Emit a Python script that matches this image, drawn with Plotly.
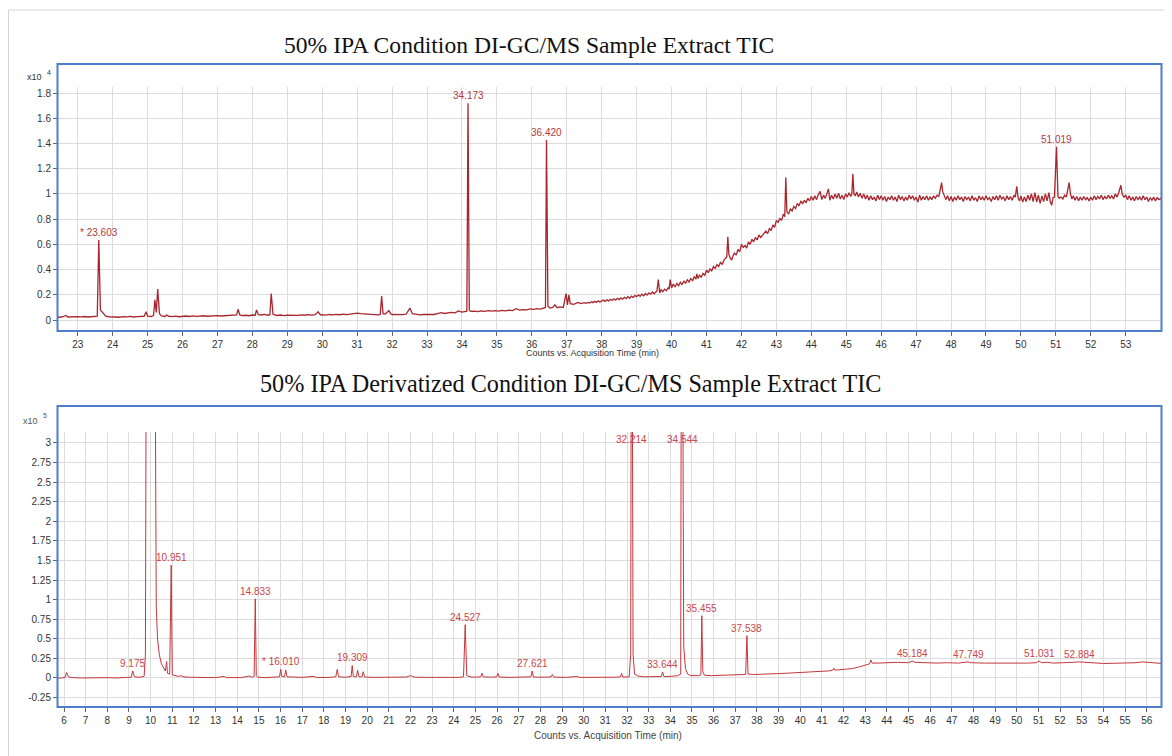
import plotly.graph_objects as go

# ---------------- DATA ----------------
# Top chromatogram: (retention time [min], counts x10^4)
top_trace = [
    (22.40, 0.025), (22.50, 0.022), (22.60, 0.028), (22.66, 0.036), (22.72, 0.024), (22.80, 0.026),
    (22.90, 0.023), (23.00, 0.027), (23.10, 0.025), (23.20, 0.028), (23.30, 0.024), (23.40, 0.027),
    (23.50, 0.026), (23.56, 0.030), (23.603, 0.634), (23.65, 0.080), (23.70, 0.065), (23.75, 0.045),
    (23.80, 0.030), (23.90, 0.026), (24.00, 0.024), (24.10, 0.028), (24.20, 0.022), (24.30, 0.027),
    (24.40, 0.025), (24.50, 0.029), (24.60, 0.024), (24.70, 0.027), (24.80, 0.026), (24.90, 0.030),
    (24.96, 0.066), (25.00, 0.030), (25.10, 0.028), (25.17, 0.035), (25.21, 0.160), (25.25, 0.060),
    (25.29, 0.245), (25.34, 0.050), (25.40, 0.032), (25.50, 0.028), (25.55, 0.040), (25.60, 0.030),
    (25.70, 0.027), (25.80, 0.031), (25.90, 0.026), (26.00, 0.030), (26.10, 0.032), (26.20, 0.028),
    (26.30, 0.033), (26.40, 0.029), (26.50, 0.031), (26.60, 0.034), (26.70, 0.030), (26.80, 0.033),
    (26.90, 0.031), (27.00, 0.035), (27.10, 0.032), (27.20, 0.034), (27.30, 0.031), (27.40, 0.036),
    (27.50, 0.034), (27.55, 0.040), (27.59, 0.085), (27.64, 0.040), (27.70, 0.035), (27.80, 0.038),
    (27.90, 0.034), (28.00, 0.040), (28.08, 0.038), (28.12, 0.080), (28.17, 0.042), (28.25, 0.040),
    (28.35, 0.045), (28.45, 0.038), (28.50, 0.042), (28.54, 0.210), (28.59, 0.045), (28.70, 0.036),
    (28.80, 0.040), (28.90, 0.035), (29.00, 0.038), (29.10, 0.036), (29.20, 0.040), (29.30, 0.037),
    (29.40, 0.041), (29.50, 0.038), (29.60, 0.042), (29.70, 0.039), (29.80, 0.043), (29.88, 0.065),
    (29.95, 0.040), (30.00, 0.042), (30.10, 0.039), (30.20, 0.044), (30.30, 0.041), (30.40, 0.045),
    (30.50, 0.042), (30.60, 0.046), (30.70, 0.043), (30.80, 0.047), (30.90, 0.050), (30.95, 0.058),
    (31.00, 0.055), (31.10, 0.050), (31.20, 0.048), (31.30, 0.046), (31.40, 0.043), (31.50, 0.045),
    (31.60, 0.041), (31.66, 0.044), (31.70, 0.190), (31.74, 0.050), (31.80, 0.047), (31.91, 0.075),
    (31.96, 0.050), (32.00, 0.044), (32.10, 0.042), (32.20, 0.039), (32.30, 0.043), (32.40, 0.046),
    (32.51, 0.095), (32.58, 0.050), (32.70, 0.045), (32.80, 0.041), (32.90, 0.044), (33.00, 0.042),
    (33.10, 0.046), (33.20, 0.044), (33.30, 0.050), (33.40, 0.058), (33.50, 0.052), (33.60, 0.055),
    (33.70, 0.060), (33.80, 0.057), (33.90, 0.072), (34.00, 0.063), (34.10, 0.066), (34.14, 0.070),
    (34.173, 1.720), (34.21, 0.080), (34.25, 0.068), (34.35, 0.070), (34.45, 0.066), (34.55, 0.072),
    (34.65, 0.069), (34.75, 0.075), (34.85, 0.071), (34.95, 0.074), (35.05, 0.070), (35.15, 0.076),
    (35.25, 0.073), (35.35, 0.078), (35.45, 0.075), (35.55, 0.090), (35.65, 0.079), (35.75, 0.083),
    (35.85, 0.080), (35.95, 0.088), (36.05, 0.084), (36.15, 0.090), (36.25, 0.087), (36.35, 0.095),
    (36.39, 0.100), (36.420, 1.427), (36.46, 0.110), (36.52, 0.095), (36.60, 0.100), (36.66, 0.120),
    (36.72, 0.098), (36.80, 0.104), (36.90, 0.100), (36.98, 0.210), (37.02, 0.120), (37.06, 0.200),
    (37.10, 0.130), (37.20, 0.125), (37.32, 0.140), (37.40, 0.130),
    (37.50, 0.138), (37.55, 0.132), (37.60, 0.140), (37.65, 0.135), (37.70, 0.145), (37.75, 0.138),
    (37.80, 0.148), (37.85, 0.140), (37.90, 0.152), (37.95, 0.143), (38.00, 0.150), (38.05, 0.158),
    (38.10, 0.148), (38.15, 0.160), (38.20, 0.152), (38.25, 0.165), (38.30, 0.155), (38.35, 0.168),
    (38.40, 0.158), (38.45, 0.172), (38.50, 0.162), (38.55, 0.175), (38.60, 0.165), (38.65, 0.180),
    (38.70, 0.170), (38.75, 0.185), (38.80, 0.172), (38.85, 0.190), (38.90, 0.178), (38.95, 0.195),
    (39.00, 0.185), (39.05, 0.200), (39.10, 0.188), (39.15, 0.205), (39.20, 0.192), (39.25, 0.210),
    (39.30, 0.198), (39.35, 0.215), (39.40, 0.205), (39.45, 0.222), (39.50, 0.208), (39.55, 0.225),
    (39.58, 0.230), (39.62, 0.320), (39.66, 0.215), (39.70, 0.240), (39.75, 0.225), (39.80, 0.245),
    (39.85, 0.232), (39.90, 0.255), (39.93, 0.245), (39.96, 0.320), (40.00, 0.255), (40.05, 0.285),
    (40.10, 0.262), (40.15, 0.290), (40.20, 0.272), (40.25, 0.300), (40.30, 0.280), (40.35, 0.310),
    (40.40, 0.290), (40.45, 0.320), (40.50, 0.302), (40.55, 0.330), (40.60, 0.310), (40.65, 0.345),
    (40.70, 0.325), (40.72, 0.365), (40.76, 0.330), (40.80, 0.355), (40.85, 0.340), (40.90, 0.370),
    (40.95, 0.355), (41.00, 0.395), (41.05, 0.375), (41.10, 0.405), (41.15, 0.390), (41.20, 0.425),
    (41.25, 0.410), (41.30, 0.440), (41.35, 0.425), (41.40, 0.460), (41.45, 0.440), (41.50, 0.475),
    (41.55, 0.490), (41.58, 0.500), (41.61, 0.660), (41.64, 0.520), (41.68, 0.490), (41.72, 0.475),
    (41.76, 0.510), (41.80, 0.530), (41.85, 0.515), (41.90, 0.560), (41.95, 0.540), (42.00, 0.600),
    (42.05, 0.575), (42.10, 0.590), (42.15, 0.570), (42.20, 0.620), (42.25, 0.600), (42.30, 0.640),
    (42.35, 0.620), (42.40, 0.655), (42.45, 0.635), (42.50, 0.675), (42.55, 0.655), (42.60, 0.670),
    (42.65, 0.690), (42.70, 0.705), (42.75, 0.685), (42.80, 0.725), (42.85, 0.710), (42.90, 0.755),
    (42.95, 0.735), (43.00, 0.790), (43.05, 0.775), (43.10, 0.805), (43.15, 0.790), (43.20, 0.840),
    (43.24, 0.820), (43.27, 1.130), (43.30, 0.860), (43.35, 0.840), (43.40, 0.880), (43.45, 0.865),
    (43.50, 0.900), (43.55, 0.885), (43.60, 0.925), (43.65, 0.905), (43.70, 0.945), (43.75, 0.920),
    (43.80, 0.950), (43.85, 0.930), (43.90, 0.965), (43.95, 0.945), (44.00, 0.980), (44.05, 0.950),
    (44.10, 0.985), (44.15, 0.955), (44.20, 0.995), (44.25, 1.020), (44.30, 0.955), (44.35, 0.990),
    (44.40, 0.965), (44.45, 1.000), (44.49, 1.040), (44.53, 0.950), (44.58, 0.990), (44.63, 0.960),
    (44.68, 1.000), (44.73, 0.965), (44.78, 1.005), (44.83, 0.960), (44.88, 0.990), (44.93, 0.955),
    (44.98, 1.000), (45.03, 0.975), (45.08, 1.010), (45.13, 0.980), (45.16, 1.000), (45.19, 1.160),
    (45.22, 1.000), (45.26, 0.985), (45.30, 1.015), (45.35, 0.975), (45.40, 1.005), (45.45, 0.965),
    (45.50, 1.000), (45.55, 0.960), (45.60, 0.990), (45.65, 0.950), (45.70, 0.985), (45.75, 0.955),
    (45.80, 0.975), (45.85, 0.945), (45.90, 0.990), (45.95, 0.955), (46.00, 0.985), (46.05, 0.950),
    (46.10, 0.980), (46.15, 0.940), (46.20, 0.975), (46.25, 0.955), (46.30, 0.985), (46.35, 0.950),
    (46.40, 0.975), (46.45, 0.940), (46.50, 0.990), (46.55, 0.955), (46.60, 0.980), (46.65, 0.945),
    (46.70, 0.975), (46.75, 0.950), (46.80, 0.990), (46.85, 0.960), (46.90, 0.985), (46.95, 0.950),
    (47.00, 0.975), (47.05, 0.935), (47.10, 0.990), (47.15, 0.950), (47.20, 0.980), (47.25, 0.955),
    (47.30, 0.985), (47.35, 0.950), (47.40, 0.975), (47.45, 0.955), (47.50, 0.985), (47.55, 0.965),
    (47.60, 0.990), (47.65, 0.980), (47.70, 1.050), (47.73, 1.090), (47.76, 1.020), (47.80, 0.990),
    (47.85, 0.955), (47.90, 0.985), (47.95, 0.945), (48.00, 0.980), (48.05, 0.940), (48.10, 0.975),
    (48.15, 0.950), (48.20, 0.985), (48.25, 0.955), (48.30, 0.975), (48.35, 0.940), (48.40, 0.980),
    (48.45, 0.955), (48.50, 0.975), (48.55, 0.945), (48.60, 0.985), (48.65, 0.950), (48.70, 0.970),
    (48.75, 0.940), (48.80, 0.985), (48.85, 0.955), (48.90, 0.975), (48.95, 0.950), (49.00, 0.985),
    (49.05, 0.955), (49.10, 0.970), (49.15, 0.940), (49.20, 0.980), (49.25, 0.955), (49.30, 0.985),
    (49.35, 0.950), (49.40, 0.990), (49.45, 0.960), (49.50, 0.975), (49.55, 0.945), (49.60, 0.985),
    (49.65, 0.955), (49.70, 0.980), (49.75, 0.950), (49.80, 0.990), (49.84, 0.975), (49.88, 1.060),
    (49.92, 0.970), (49.96, 0.945), (50.00, 0.985), (50.05, 0.935), (50.10, 0.975), (50.15, 0.940),
    (50.20, 0.990), (50.25, 0.950), (50.30, 1.000), (50.35, 0.940), (50.40, 1.010), (50.45, 0.935),
    (50.50, 0.990), (50.55, 0.925), (50.60, 0.985), (50.65, 0.940), (50.70, 1.000), (50.75, 0.945),
    (50.80, 1.010), (50.84, 0.940), (50.88, 0.910), (50.92, 0.970), (50.96, 0.975), (51.019, 1.374),
    (51.06, 0.980), (51.10, 0.965), (51.15, 0.975), (51.20, 0.960), (51.25, 0.990), (51.30, 0.975),
    (51.35, 1.050), (51.38, 1.090), (51.42, 1.000), (51.46, 0.960), (51.50, 0.985), (51.55, 0.950),
    (51.60, 0.980), (51.65, 0.945), (51.70, 0.975), (51.75, 0.950), (51.80, 0.980), (51.85, 0.955),
    (51.90, 0.970), (51.95, 0.945), (52.00, 0.975), (52.05, 0.950), (52.10, 0.985), (52.15, 0.955),
    (52.20, 0.980), (52.25, 0.960), (52.30, 0.990), (52.35, 0.955), (52.40, 0.980), (52.45, 0.960),
    (52.50, 0.990), (52.55, 0.965), (52.60, 0.985), (52.65, 0.960), (52.70, 1.000), (52.75, 0.975),
    (52.80, 1.010), (52.86, 1.070), (52.90, 1.000), (52.95, 0.975), (53.00, 0.990), (53.05, 0.955),
    (53.10, 0.985), (53.15, 0.950), (53.20, 0.975), (53.25, 0.945), (53.30, 0.980), (53.35, 0.955),
    (53.40, 0.975), (53.45, 0.950), (53.50, 0.985), (53.55, 0.955), (53.60, 0.975), (53.65, 0.940),
    (53.70, 0.970), (53.75, 0.950), (53.80, 0.975), (53.85, 0.945), (53.90, 0.970), (53.95, 0.955),
    (54.00, 0.965), (54.04, 0.950),
]

# Bottom (derivatized) chromatogram: (retention time [min], counts x10^5)
bot_trace = [
    (5.68, 0.000), (5.90, 0.000), (6.05, 0.010), (6.12, 0.070), (6.20, 0.015), (6.40, 0.005),
    (6.80, 0.000), (7.20, 0.003), (7.60, 0.000), (8.00, 0.004), (8.40, 0.000), (8.80, 0.005),
    (9.10, 0.010), (9.175, 0.090), (9.25, 0.015), (9.50, 0.010), (9.70, 0.020), (9.76, 0.300),
    (9.79, 3.500), (10.22, 3.500), (10.26, 0.900), (10.32, 0.500), (10.40, 0.300), (10.50, 0.180),
    (10.60, 0.120), (10.68, 0.090), (10.74, 0.210), (10.78, 0.060), (10.88, 0.050), (10.951, 1.440),
    (11.00, 0.040), (11.10, 0.030), (11.30, 0.020), (11.40, 0.030), (11.50, 0.015), (11.80, 0.010),
    (12.20, 0.005), (12.60, 0.006), (13.00, 0.005), (13.40, 0.020), (13.50, 0.005), (13.90, 0.008),
    (14.20, 0.005), (14.55, 0.025), (14.70, 0.010), (14.78, 0.020), (14.833, 1.010), (14.88, 0.030),
    (14.95, 0.010), (15.30, 0.005), (15.70, 0.008), (15.95, 0.015), (16.01, 0.110), (16.06, 0.020),
    (16.18, 0.015), (16.24, 0.100), (16.30, 0.015), (16.60, 0.010), (17.00, 0.008), (17.50, 0.020),
    (17.70, 0.006), (18.20, 0.008), (18.55, 0.015), (18.62, 0.110), (18.68, 0.015), (19.00, 0.010),
    (19.26, 0.020), (19.309, 0.160), (19.36, 0.020), (19.50, 0.015), (19.56, 0.100), (19.62, 0.015),
    (19.76, 0.015), (19.82, 0.080), (19.88, 0.012), (20.30, 0.008), (20.80, 0.010), (21.30, 0.008),
    (21.80, 0.012), (22.00, 0.030), (22.20, 0.010), (22.80, 0.008), (23.30, 0.006), (23.80, 0.012),
    (24.20, 0.008), (24.45, 0.015), (24.527, 0.680), (24.60, 0.030), (24.80, 0.012), (25.00, 0.010),
    (25.25, 0.015), (25.30, 0.060), (25.36, 0.015), (25.70, 0.010), (25.98, 0.015), (26.04, 0.060),
    (26.10, 0.012), (26.60, 0.008), (27.20, 0.010), (27.56, 0.015), (27.621, 0.090), (27.68, 0.012),
    (28.20, 0.010), (28.50, 0.015), (28.55, 0.045), (28.62, 0.012), (29.20, 0.008), (29.70, 0.020),
    (29.80, 0.008), (30.40, 0.006), (31.00, 0.008), (31.50, 0.010), (31.70, 0.015), (31.75, 0.060),
    (31.80, 0.012), (32.10, 0.015), (32.17, 0.300), (32.19, 3.500), (32.25, 3.500), (32.28, 0.300),
    (32.35, 0.050), (32.50, 0.025), (32.80, 0.015), (33.20, 0.018), (33.58, 0.020), (33.644, 0.077),
    (33.70, 0.020), (34.00, 0.020), (34.35, 0.030), (34.48, 0.050), (34.50, 3.500), (34.58, 3.500),
    (34.62, 0.400), (34.70, 0.120), (34.80, 0.050), (34.95, 0.030), (35.30, 0.030), (35.41, 0.040),
    (35.455, 0.795), (35.50, 0.080), (35.58, 0.035), (35.90, 0.030), (36.40, 0.035), (36.90, 0.040),
    (37.20, 0.040), (37.48, 0.045), (37.538, 0.540), (37.59, 0.050), (37.90, 0.045), (38.20, 0.050),
    (38.50, 0.048), (38.70, 0.060), (38.90, 0.055), (39.30, 0.060), (39.70, 0.065), (40.00, 0.070),
    (40.50, 0.075), (40.80, 0.080), (41.00, 0.085), (41.30, 0.090), (41.50, 0.100), (41.55, 0.125),
    (41.60, 0.100), (42.00, 0.110), (42.40, 0.120), (42.70, 0.140), (43.00, 0.165), (43.20, 0.180),
    (43.26, 0.230), (43.32, 0.190), (43.60, 0.190), (44.00, 0.195), (44.50, 0.200), (45.00, 0.195),
    (45.184, 0.215), (45.30, 0.200), (45.80, 0.195), (46.30, 0.190), (46.80, 0.195), (47.30, 0.190),
    (47.749, 0.205), (47.90, 0.195), (48.50, 0.190), (49.00, 0.188), (49.50, 0.190), (50.00, 0.187),
    (50.50, 0.190), (50.90, 0.195), (51.031, 0.215), (51.15, 0.195), (51.40, 0.200), (51.70, 0.190),
    (52.20, 0.192), (52.60, 0.200), (52.884, 0.205), (53.10, 0.200), (53.50, 0.190), (54.00, 0.185),
    (54.50, 0.188), (55.00, 0.190), (55.50, 0.195), (55.80, 0.205), (56.00, 0.200), (56.30, 0.190),
    (56.71, 0.185),
]

top_peak_rt = [23.603, 34.173, 36.420, 51.019]
top_peak_height = [0.634, 1.720, 1.427, 1.374]
top_peak_text = ["* 23.603", "34.173", "36.420", "51.019"]

bot_peak_rt = [9.175, 10.951, 14.833, 16.010, 19.309, 24.527, 27.621, 32.214, 33.644,
               34.544, 35.455, 37.538, 45.184, 47.749, 51.031, 52.884]
bot_peak_height = [0.090, 1.440, 1.010, 0.110, 0.160, 0.680, 0.090, 3.500, 0.077,
                   3.500, 0.795, 0.540, 0.215, 0.205, 0.215, 0.205]
bot_peak_text = ["9.175", "10.951", "14.833", "* 16.010", "19.309", "24.527", "27.621", "32.214",
                 "33.644", "34.544", "35.455", "37.538", "45.184", "47.749", "51.031", "52.884"]

top_xticks = list(range(23, 54))
top_yticks = [0, 0.2, 0.4, 0.6, 0.8, 1, 1.2, 1.4, 1.6, 1.8]
bot_xticks = list(range(6, 57))
bot_yticks = [-0.25, 0, 0.25, 0.5, 0.75, 1, 1.25, 1.5, 1.75, 2, 2.25, 2.5, 2.75, 3]
bot_ytext = ["-0.25", "0", "0.25", "0.5", "0.75", "1", "1.25", "1.5", "1.75", "2",
             "2.25", "2.5", "2.75", "3"]

top_title = "50% IPA Condition DI-GC/MS Sample Extract TIC"
bot_title = "50% IPA Derivatized Condition DI-GC/MS Sample Extract TIC"
x_axis_title = "Counts vs. Acquisition Time (min)"

# ---------------- FIGURE ----------------
PAGE_MARGIN = 8          # default body margin of the html page
W, H = 1172 - PAGE_MARGIN, 756 - PAGE_MARGIN


def px(x):
    return (x - PAGE_MARGIN) / W


def py(y):
    return 1 - (y - PAGE_MARGIN) / H


top_t = [p[0] for p in top_trace]
top_v = [p[1] for p in top_trace]
bot_t = [p[0] for p in bot_trace]
bot_v = [p[1] for p in bot_trace]

fig = go.Figure()
fig.add_trace(go.Scatter(x=top_t, y=top_v, mode="lines", xaxis="x", yaxis="y",
                         line=dict(color="#a8262e", width=1.3), hoverinfo="skip"))
fig.add_trace(go.Scatter(x=bot_t, y=bot_v, mode="lines", xaxis="x2", yaxis="y2",
                         line=dict(color="#c5373d", width=1.0), hoverinfo="skip"))

sans = "Liberation Sans, Arial, sans-serif"
serif = "Liberation Serif, Times New Roman, serif"
tick_font = dict(family=sans, size=10, color="#333333")
axis_common = dict(showline=True, linecolor="#666666", linewidth=1, ticks="outside",
                   ticklen=4, tickcolor="#666666", showgrid=True, gridcolor="#dcdcdc",
                   gridwidth=1, zeroline=False, tickfont=tick_font, fixedrange=True)

fig.update_layout(
    width=W, height=H, margin=dict(l=0, r=0, t=0, b=0),
    paper_bgcolor="white", plot_bgcolor="white", showlegend=False,
    xaxis=dict(domain=[px(58), px(1161)], range=[22.436, 54.01], anchor="y",
               tickmode="array", tickvals=top_xticks, **axis_common),
    yaxis=dict(domain=[py(331), py(87)], range=[-0.087, 1.848], anchor="x",
               tickmode="array", tickvals=top_yticks, **axis_common),
    xaxis2=dict(domain=[px(58), px(1161)], range=[5.723, 56.66], anchor="y2",
                tickmode="array", tickvals=bot_xticks, **axis_common),
    yaxis2=dict(domain=[py(707), py(432)], range=[-0.370, 3.138], anchor="x2",
                tickmode="array", tickvals=bot_yticks, ticktext=bot_ytext, **axis_common),
)

shapes = [
    # page frame
    dict(type="line", xref="paper", yref="paper", x0=px(8.5), x1=1, y0=py(10), y1=py(10),
         line=dict(color="#d4d4d4", width=1)),
    dict(type="line", xref="paper", yref="paper", x0=px(8.5), x1=px(8.5), y0=py(10), y1=0,
         line=dict(color="#d4d4d4", width=1)),
    # blue panel borders
    dict(type="rect", xref="paper", yref="paper", x0=px(57.5), x1=px(1161.5), y0=py(331), y1=py(64),
         line=dict(color="#4f7dcc", width=2), layer="above"),
    dict(type="rect", xref="paper", yref="paper", x0=px(57.5), x1=px(1161.5), y0=py(707), y1=py(406),
         line=dict(color="#4f7dcc", width=2), layer="above"),
]


def note(text, x, y, size, color, family=sans, xanchor="center"):
    return dict(text=text, xref="paper", yref="paper", x=px(x), y=py(y), showarrow=False,
                xanchor=xanchor, yanchor="middle", font=dict(family=family, size=size, color=color))


annotations = [
    note(top_title, 529, 45, 23.6, "#111111", family=serif),
    note(bot_title, 570, 383, 24.2, "#111111", family=serif),
    note(x_axis_title, 592, 353, 9, "#333333"),
    note(x_axis_title, 608, 735, 10, "#444444"),
    note("x10", 25, 77, 9, "#333333", xanchor="left"),
    note("4", 45, 72, 7, "#333333", xanchor="left"),
    note("x10", 21, 421, 9, "#555555", xanchor="left"),
    note("5", 41, 416, 7, "#555555", xanchor="left"),
]

for rt, h, txt in zip(top_peak_rt, top_peak_height, top_peak_text):
    annotations.append(dict(text=txt, x=rt, y=h, xref="x", yref="y", showarrow=False,
                            xanchor="center", yanchor="bottom",
                            font=dict(family=sans, size=10, color="#b23a40")))

bot_top = 3.138
for rt, h, txt in zip(bot_peak_rt, bot_peak_height, bot_peak_text):
    clipped = h > bot_top
    annotations.append(dict(text=txt, x=rt, y=bot_top if clipped else h, xref="x2", yref="y2",
                            showarrow=False, xanchor="center",
                            yanchor="top" if clipped else "bottom",
                            font=dict(family=sans, size=10, color="#c8474c")))

fig.update_layout(shapes=shapes, annotations=annotations)
fig.write_html("out.html")
